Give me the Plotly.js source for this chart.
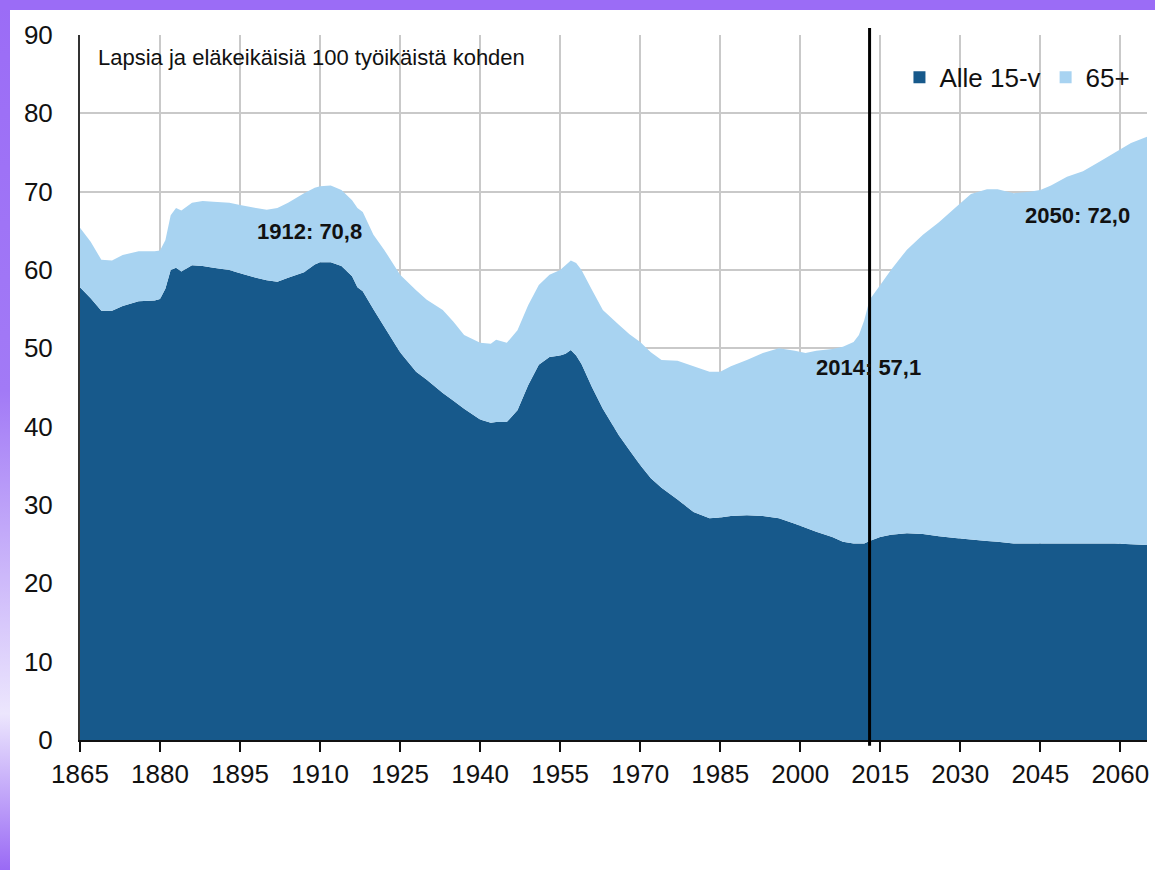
<!DOCTYPE html>
<html>
<head>
<meta charset="utf-8">
<script src="https://cdn.plot.ly/plotly-3.0.1.min.js"></script>
<style>
  html, body { margin: 0; padding: 0; }
  body {
    width: 1155px; height: 870px; overflow: hidden;
    background: linear-gradient(to bottom, #9b6cf6 0%, #a27af6 45%, #ece6fd 82%, #9a6af5 100%);
    position: relative;
  }
  #topbar { position: absolute; left: 0; top: 0; width: 1155px; height: 10px; background: #9b6cf6; }
  #chart { position: absolute; left: 10px; top: 10px; width: 1145px; height: 860px; background: #fff; }
</style>
</head>
<body>
<div id="topbar"></div>
<div id="chart"></div>
<script>
// Years (x axis)
const years = [1865,1867,1869,1871,1873,1876,1879,1880,1881,1882,1883,1884,1886,1888,1890,1893,1895,1898,1900,1902,1904,1907,1909,1910,1912,1914,1916,1917,1918,1920,1922,1925,1928,1930,1933,1935,1937,1940,1942,1943,1945,1947,1949,1951,1953,1955,1956,1957,1958,1959,1961,1963,1966,1968,1970,1972,1974,1977,1980,1983,1985,1987,1990,1993,1996,1999,2001,2003,2006,2008,2010,2011,2012,2013,2015,2017,2020,2023,2026,2029,2032,2035,2037,2040,2043,2045,2047,2050,2053,2056,2059,2062,2065];

// Alle 15-v: children per 100 working-age
const alle15 = [57.8,56.4,54.8,54.8,55.4,56.0,56.1,56.3,57.6,60.0,60.3,59.8,60.6,60.5,60.3,60.0,59.6,59.0,58.7,58.5,59.0,59.7,60.7,61.0,61.0,60.5,59.2,57.8,57.3,55.0,52.8,49.5,47.0,46.0,44.3,43.3,42.3,40.9,40.5,40.6,40.6,42.1,45.3,47.9,48.9,49.1,49.3,49.8,49.1,48.0,45.0,42.3,38.9,37.0,35.1,33.4,32.2,30.7,29.1,28.3,28.4,28.6,28.7,28.6,28.3,27.6,27.1,26.6,25.9,25.3,25.1,25.1,25.1,25.4,25.9,26.2,26.4,26.3,26.0,25.8,25.6,25.4,25.3,25.1,25.1,25.1,25.1,25.1,25.1,25.1,25.1,25.0,24.9];

// Total dependency ratio (Alle 15-v + 65+) per 100 working-age
const yhteensa = [65.4,63.6,61.3,61.2,61.9,62.4,62.4,62.5,63.8,67.0,67.9,67.6,68.6,68.8,68.7,68.6,68.3,67.9,67.7,67.9,68.6,69.8,70.5,70.7,70.8,70.2,68.9,67.9,67.4,64.5,62.6,59.4,57.4,56.2,54.9,53.4,51.7,50.7,50.6,51.1,50.7,52.3,55.5,58.1,59.4,60.0,60.6,61.2,60.9,60.0,57.4,54.9,53.0,51.8,50.8,49.5,48.5,48.4,47.7,47.0,47.0,47.7,48.5,49.4,50.0,49.7,49.4,49.7,49.9,50.2,50.8,51.7,53.6,56.2,58.1,60.0,62.6,64.5,66.1,67.9,69.7,70.3,70.3,69.8,70.0,70.2,70.8,71.9,72.6,73.8,75.0,76.2,77.0];

const seriesNames = ["Alle 15-v", "65+"];
const xTicks = [1865,1880,1895,1910,1925,1940,1955,1970,1985,2000,2015,2030,2045,2060];
const yTicks = [0,10,20,30,40,50,60,70,80,90];
const noteText = "Lapsia ja eläkeikäisiä 100 työikäistä kohden";
const callouts = [
  {year: 1908, value: 64.9, text: "1912: 70,8"},
  {year: 2012.8, value: 47.5, text: "2014: 57,1"},
  {year: 2052, value: 66.9, text: "2050: 72,0"}
];
const markerYear = 2013;

const darkBlue = "#17598b";
const lightBlue = "#a8d3f1";
const FONT = "Liberation Sans, Arial, sans-serif";

const traces = [
  {x: years, y: alle15, type: "scatter", mode: "none", fill: "tozeroy",
   fillcolor: darkBlue, showlegend: false, hoverinfo: "skip"},
  {x: years, y: yhteensa, type: "scatter", mode: "none", fill: "tonexty",
   fillcolor: lightBlue, showlegend: false, hoverinfo: "skip"},
  {x: [null], y: [null], type: "scatter", mode: "markers", name: seriesNames[0],
   marker: {symbol: "square", size: 12, color: darkBlue}},
  {x: [null], y: [null], type: "scatter", mode: "markers", name: seriesNames[1],
   marker: {symbol: "square", size: 12, color: lightBlue}}
];

const layout = {
  width: 1145, height: 860,
  margin: {l: 70, r: 8, t: 25, b: 130},
  paper_bgcolor: "#ffffff",
  plot_bgcolor: "#ffffff",
  font: {family: FONT, color: "#1a1a1a"},
  showlegend: true,
  legend: {
    orientation: "h", traceorder: "normal", x: 0.768, y: 0.94, xanchor: "left", yanchor: "middle",
    font: {size: 26, family: FONT, color: "#111"}, bgcolor: "rgba(0,0,0,0)",
    itemclick: false, itemdoubleclick: false, tracegroupgap: 0
  },
  xaxis: {
    range: [1865, 2065], tickvals: xTicks, ticktext: xTicks.map(String),
    showgrid: true, gridcolor: "#c9c9c9", gridwidth: 2,
    showline: true, linecolor: "#111", linewidth: 2,
    ticks: "outside", ticklen: 10, tickwidth: 2, tickcolor: "#111",
    tickfont: {size: 26, family: FONT, color: "#111"},
    zeroline: false, fixedrange: true
  },
  yaxis: {
    range: [0, 90], tickvals: yTicks, ticktext: yTicks.map(String),
    showgrid: true, gridcolor: "#c9c9c9", gridwidth: 2,
    showline: true, linecolor: "#333", linewidth: 2,
    ticks: "outside", ticklen: 20, tickcolor: "rgba(0,0,0,0)",
    tickfont: {size: 26, family: FONT, color: "#111"},
    zeroline: false, fixedrange: true
  },
  shapes: [
    {type: "line", xref: "x", yref: "paper", x0: markerYear, x1: markerYear, y0: -0.008, y1: 1.01,
     line: {color: "#000", width: 3}}
  ],
  annotations: [
    {xref: "x", yref: "y", x: 1868, y: 87.1, xanchor: "left", yanchor: "middle", showarrow: false,
     text: noteText, font: {size: 22, family: FONT, color: "#111"}}
  ].concat(callouts.map(c => ({
     xref: "x", yref: "y", x: c.year, y: c.value, xanchor: "center", yanchor: "middle", showarrow: false,
     text: "<b>" + c.text + "</b>", font: {size: 22, family: FONT, color: "#111"}
  })))
};

Plotly.newPlot("chart", traces, layout, {displayModeBar: false, staticPlot: true});
</script>
</body>
</html>
